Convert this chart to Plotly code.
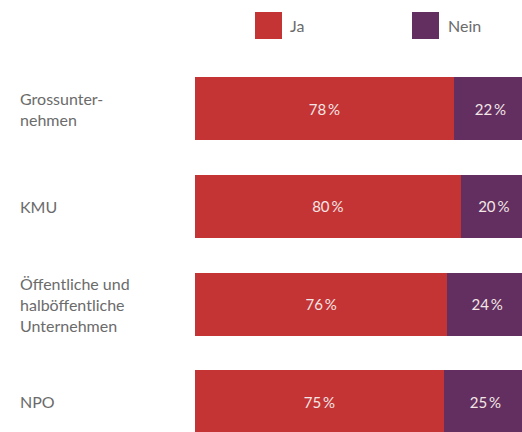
import plotly.graph_objects as go

categories = ["Grossunter-<br>nehmen", "KMU", "Öffentliche und<br>halböffentliche<br>Unternehmen", "NPO"]
ja_values = [78, 80, 76, 75]
nein_values = [22, 20, 24, 25]
series_names = ["Ja", "Nein"]
colors = ["#C43434", "#622F60"]

FONT = "Lato"
W, H = 522, 432
L, T = 195, 60
y_idx = list(range(len(categories)))

fig = go.Figure()
for name, vals, col in zip(series_names, [ja_values, nein_values], colors):
    fig.add_trace(go.Bar(
        y=y_idx, x=vals, name=name, orientation="h",
        marker=dict(color=col, line=dict(width=0)),
        text=[f"{v}\u2009%" for v in vals],
        textposition="inside", insidetextanchor="middle",
        textfont=dict(family=FONT, size=15, color="#F3E6E6"),
        hoverinfo="skip", showlegend=False, width=0.645,
    ))

plot_w = W - L
ann = []
for i, c in enumerate(categories):
    ann.append(dict(text=c, x=(18 - L) / plot_w, xref="paper", y=i, yref="y",
                    xanchor="left", yanchor="middle", align="left", showarrow=False,
                    font=dict(family=FONT, size=16, color="#6B6B6B")))

shapes = []
leg_pos = [(255, 288), (412, 446)]
for (sx, tx), name, col in zip(leg_pos, series_names, colors):
    shapes.append(dict(type="rect", xref="paper", yref="paper",
                       x0=(sx - L) / plot_w, x1=(sx + 27 - L) / plot_w,
                       y0=1 + (T - 12) / (H - T), y1=1 + (T - 39) / (H - T),
                       fillcolor=col, line=dict(width=0)))
    ann.append(dict(text=name, x=(tx - L) / plot_w, xref="paper",
                    y=1 + (T - 25) / (H - T), yref="paper",
                    xanchor="left", yanchor="middle", showarrow=False,
                    font=dict(family=FONT, size=16, color="#6B6B6B")))

fig.update_layout(
    width=W, height=H, barmode="stack", bargap=0.355,
    margin=dict(l=L, r=0, t=T, b=0),
    paper_bgcolor="white", plot_bgcolor="white",
    xaxis=dict(range=[0, 100 * (W - L) / 332], visible=False, fixedrange=True),
    yaxis=dict(range=[3.31, -0.5], visible=False, fixedrange=True),
    annotations=ann, shapes=shapes, showlegend=False,
)
fig.write_html("out.html")
